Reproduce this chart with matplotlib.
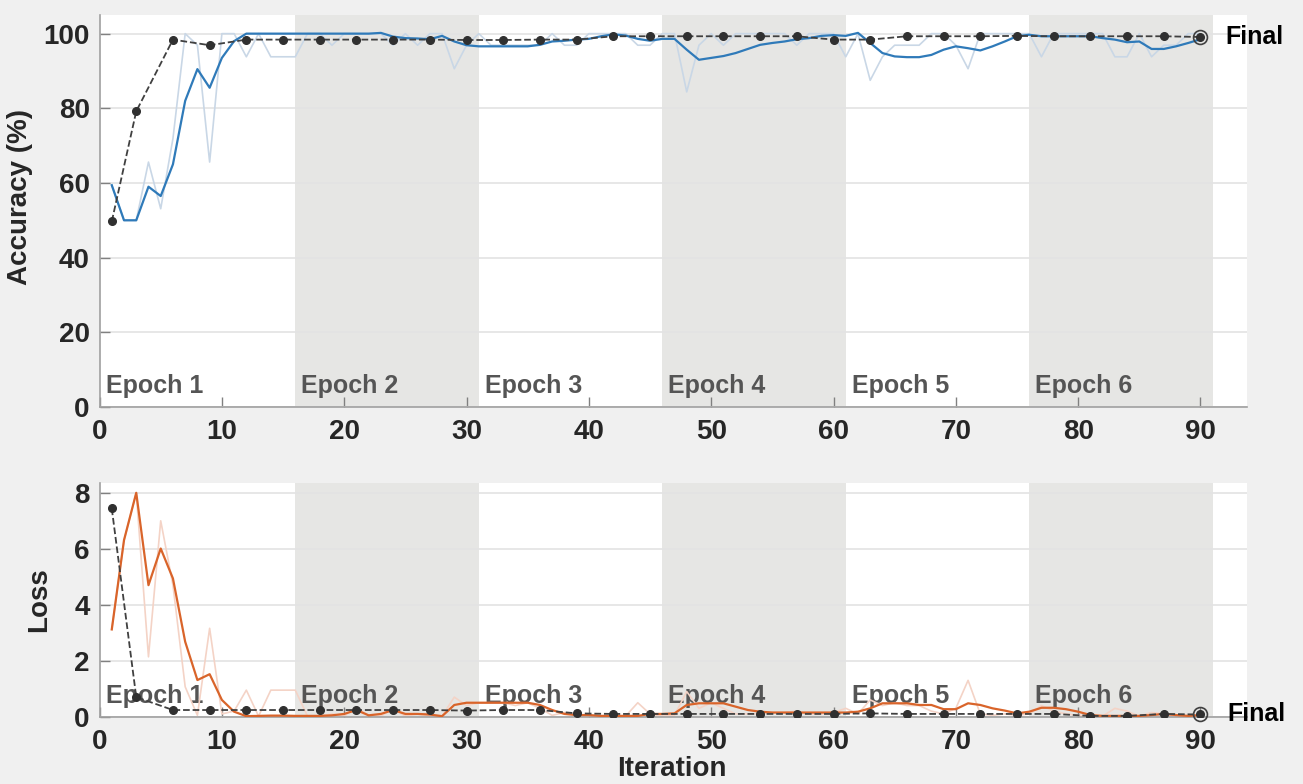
import numpy as np
import matplotlib
matplotlib.use('Agg')
import matplotlib.pyplot as plt

plt.rcParams['font.family'] = ['Liberation Sans', 'DejaVu Sans']
plt.rcParams['font.weight'] = 'bold'

# 反復回数
iters = np.arange(1, 91)

# 訓練精度 (生データ)
acc_raw = [59.4, 50, 50, 65.6, 53.1, 71.9, 100, 96.9, 65.6, 100,
           100, 93.8, 100, 93.8, 93.8, 93.8, 100, 100, 96.9, 100,
           100, 100, 100, 96.9, 100, 96.9, 100, 100, 90.6, 96.9,
           100, 96.9, 96.9, 96.9, 96.9, 96.9, 100, 96.9, 96.9, 100,
           100, 100, 100, 96.9, 96.9, 100, 100, 84.4, 96.9, 100,
           96.9, 100, 100, 100, 100, 100, 96.9, 100, 100, 100,
           93.8, 100, 87.5, 93.8, 96.9, 96.9, 96.9, 100, 100, 96.9,
           90.6, 100, 100, 100, 100, 100, 93.8, 100, 100, 100,
           100, 100, 93.8, 93.8, 100, 93.8, 96.9, 96.9, 100, 100]

# 訓練精度 (平滑化)
acc_smooth = [59.4, 50, 50, 59, 56.5, 65, 82, 90.5, 85.5, 93.5,
              98, 100, 100, 100, 100, 100, 100, 100, 100, 100,
              100, 100, 100.2, 99.2, 98.8, 98.7, 98.5, 99.4, 97.9, 96.9,
              96.6, 96.6, 96.6, 96.6, 96.6, 97, 97.9, 98.1, 98.4, 98.6,
              99.3, 99.8, 99.5, 98.6, 98.1, 98.6, 98.6, 95.7, 93.0, 93.5,
              94, 94.8, 95.9, 97, 97.5, 97.9, 98.5, 98.8, 99.4, 99.6,
              99.4, 100.2, 97.5, 94.8, 93.9, 93.7, 93.7, 94.3, 95.7, 96.6,
              96.1, 95.5, 96.6, 97.9, 99.3, 99.7, 99.3, 99.3, 99.3, 99.3,
              99.3, 98.8, 98.4, 97.7, 97.9, 95.9, 95.9, 96.6, 97.5, 98.5]

# 検証
val_iters = [1, 3] + list(range(6, 91, 3))
val_acc = [49.7, 79.2, 98.4, 96.9, 98.4, 98.4, 98.4, 98.4, 98.4, 98.4,
           98.3, 98.3, 98.4, 98.4, 99.3, 99.3, 99.3, 99.3, 99.3, 99.3,
           98.4, 98.4, 99.3, 99.3, 99.3, 99.4, 99.3, 99.3, 99.3, 99.3, 99.1]

# 訓練損失
loss_raw = [3.12, 6.3, 8.0, 2.14, 7.0, 4.7, 1.07, 0.05, 3.16, 0.1,
            0.2, 0.95, 0.02, 0.95, 0.95, 0.95, 0.02, 0.02, 0.1, 0.02,
            0.35, 0.02, 0.02, 0.3, 0.02, 0.1, 0.02, 0.02, 0.7, 0.4,
            0.5, 0.5, 0.5, 0.4, 0.5, 0.3, 0.05, 0.15, 0.05, 0.05,
            0.02, 0.02, 0.02, 0.5, 0.1, 0.02, 0.05, 0.9, 0.3, 0.5,
            0.3, 0.1, 0.1, 0.1, 0.15, 0.15, 0.2, 0.1, 0.1, 0.15,
            0.3, 0.1, 0.6, 0.4, 0.5, 0.4, 0.4, 0.2, 0.1, 0.3,
            1.3, 0.1, 0.05, 0.1, 0.05, 0.1, 0.4, 0.2, 0.1, 0.05,
            0.02, 0.02, 0.3, 0.2, 0.02, 0.15, 0.1, 0.02, 0.02, 0.02]

loss_smooth = [3.12, 6.31, 8.0, 4.7, 6.01, 4.94, 2.68, 1.31, 1.52, 0.6,
               0.18, 0.02, 0.03, 0.04, 0.04, 0.03, 0.03, 0.03, 0.05, 0.1,
               0.24, 0.05, 0.1, 0.24, 0.1, 0.1, 0.08, 0.02, 0.42, 0.5,
               0.5, 0.5, 0.5, 0.5, 0.5, 0.42, 0.24, 0.1, 0.06, 0.06,
               0.03, 0.03, 0.03, 0.03, 0.1, 0.1, 0.12, 0.42, 0.48, 0.48,
               0.48, 0.36, 0.24, 0.18, 0.15, 0.15, 0.15, 0.15, 0.15, 0.15,
               0.15, 0.18, 0.3, 0.48, 0.48, 0.48, 0.42, 0.42, 0.27, 0.27,
               0.48, 0.42, 0.3, 0.22, 0.12, 0.18, 0.32, 0.32, 0.27, 0.18,
               0.06, 0.03, 0.03, 0.03, 0.03, 0.06, 0.1, 0.06, 0.03, 0.06]

val_loss = [7.44, 0.7, 0.24, 0.24, 0.24, 0.24, 0.24, 0.24, 0.24, 0.24,
            0.22, 0.24, 0.24, 0.12, 0.1, 0.1, 0.1, 0.1, 0.1, 0.1,
            0.1, 0.12, 0.1, 0.1, 0.1, 0.1, 0.1, 0.03, 0.03, 0.1, 0.08]

epoch_starts = [0, 16, 31, 46, 61, 76]
epoch_labels = ['Epoch 1', 'Epoch 2', 'Epoch 3', 'Epoch 4', 'Epoch 5', 'Epoch 6']

fig = plt.figure(figsize=(13.03, 7.84), dpi=100, facecolor='#f0f0f0')
ax1 = fig.add_axes([0.0764, 0.4809, 0.8806, 0.5])
ax2 = fig.add_axes([0.0764, 0.0858, 0.8806, 0.2981])


def style(ax, ylim, yticks):
    ax.set_facecolor('white')
    ax.set_xlim(0, 93.8)
    ax.set_ylim(*ylim)
    ax.set_xticks(range(0, 91, 10))
    ax.set_yticks(yticks)
    for s in ['top', 'right']:
        ax.spines[s].set_visible(False)
    for s in ['left', 'bottom']:
        ax.spines[s].set_color('#a0a0a0')
        ax.spines[s].set_linewidth(1.2)
    ax.tick_params(direction='in', length=7, color='#808080', labelsize=20,
                   width=1)
    ax.tick_params(axis='x', pad=9)
    ax.tick_params(axis='y', pad=7)
    for lab in ax.get_xticklabels() + ax.get_yticklabels():
        lab.set_fontweight('bold')
        lab.set_color('#262626')
    ax.yaxis.grid(True, color='#e3e3e3', linewidth=1.2)
    ax.set_axisbelow(True)
    # エポックの背景
    for k, st in enumerate(epoch_starts):
        if k % 2 == 1:
            ax.axvspan(st, st + 15, color='#e6e6e4', zorder=0, lw=0)
        ax.annotate(epoch_labels[k], xy=(st + 0.5, 0),
                    xycoords=('data', 'axes fraction'),
                    xytext=(0, 10), textcoords='offset points',
                    fontsize=18, fontweight='bold', color='#555555',
                    ha='left', va='baseline', zorder=1)


style(ax1, (0, 105), range(0, 101, 20))
style(ax2, (0, 8.35), range(0, 9, 2))

# 精度
ax1.plot(iters, acc_raw, color='#c9d7e6', lw=1.2, zorder=2)
ax1.plot(iters, acc_smooth, color='#2f7ab9', lw=1.6, zorder=3)
ax1.plot(val_iters, val_acc, '--', color='#404040', lw=1.3, marker='o',
         markersize=5.5, markerfacecolor='#303030', markeredgecolor='#303030',
         zorder=4)
ax1.plot(val_iters[-1], val_acc[-1], 'o', markersize=10, markerfacecolor='none',
         markeredgecolor='#404040', markeredgewidth=1.2, zorder=5)
ax1.text(92.0, val_acc[-1], 'Final', fontsize=18, fontweight='bold',
         color='black', va='center', ha='left')
ax1.set_ylabel('Accuracy (%)', fontsize=20, fontweight='bold', color='#262626')
ax1.yaxis.set_label_coords(-0.058, 0.535)

# 損失
ax2.plot(iters, loss_raw, color='#f4d3c6', lw=1.2, zorder=2)
ax2.plot(iters, loss_smooth, color='#d9642a', lw=1.6, zorder=3)
ax2.plot(val_iters, val_loss, '--', color='#404040', lw=1.3, marker='o',
         markersize=5.5, markerfacecolor='#303030', markeredgecolor='#303030',
         zorder=4)
ax2.plot(val_iters[-1], val_loss[-1], 'o', markersize=10, markerfacecolor='none',
         markeredgecolor='#404040', markeredgewidth=1.2, zorder=5, clip_on=False)
ax2.text(92.2, val_loss[-1], 'Final', fontsize=18, fontweight='bold',
         color='black', va='center', ha='left')
ax2.set_ylabel('Loss', fontsize=20, fontweight='bold', color='#262626')
ax2.yaxis.set_label_coords(-0.041, 0.5)

fig.text(0.516, 0.0105, 'Iteration', fontsize=20, fontweight='bold',
         color='#262626', ha='center', va='baseline')

plt.savefig('out.png', dpi=100, facecolor=fig.get_facecolor())
